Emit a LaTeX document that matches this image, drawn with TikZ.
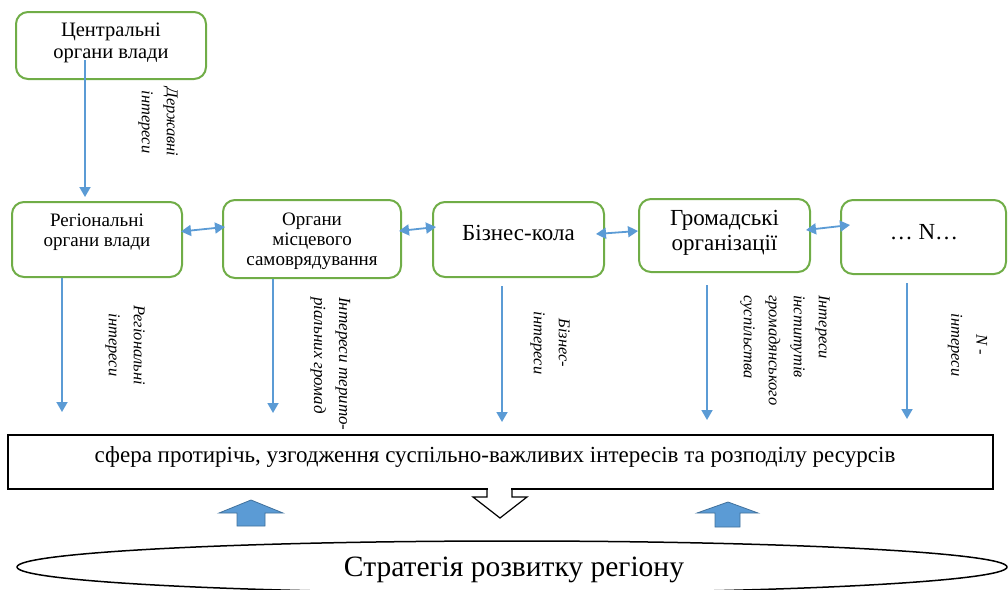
\documentclass[tikz,border=0pt]{standalone}
\usepackage{fontspec}
\setmainfont{Liberation Serif}
\usetikzlibrary{calc,arrows.meta}
\definecolor{boxgreen}{HTML}{70AD47}
\definecolor{arrblue}{HTML}{5B9BD5}
\definecolor{arrblueedge}{HTML}{41719C}
\tikzset{
  gbox/.style={draw=boxgreen, line width=2pt, rounded corners=12pt, inner sep=0pt, fill=white},
  boxtext/.style={align=center, font=\fontsize{19}{20}\selectfont, inner sep=0pt},
  bigtext/.style={align=center, font=\fontsize{23}{25}\selectfont, inner sep=0pt},
  flow/.style={draw=arrblue, line width=1.8pt, -{Triangle[length=10pt,width=11pt]}},
  dflow/.style={draw=arrblue, line width=1.8pt, {Triangle[length=10pt,width=11pt]}-{Triangle[length=10pt,width=11pt]}},
  rlabel/.style={rotate=-90, font=\itshape\fontsize{16.5}{25}\selectfont, align=center, inner sep=0pt},
  blockup/.style={fill=arrblue, draw=arrblueedge, line width=0.8pt},
  hollow/.style={draw=black, line width=1.2pt},
}
\begin{document}
\begin{tikzpicture}[x=1pt, y=-1pt]
\useasboundingbox (0,0) rectangle (1008,589);

% boxes
\node[gbox, minimum width=190pt, minimum height=67pt] (cb) at (111,45.5) {};
\node[boxtext, font=\fontsize{20.5}{21.5}\selectfont] (cbt) at (111,43) {Центральні\\органи влади};

\node[gbox, minimum width=170pt, minimum height=75pt] (b1) at (97,239.5) {};
\node[boxtext] (b1t) at (97,232) {Регіональні\\органи влади};

\node[gbox, minimum width=178pt, minimum height=78pt] (b2) at (312,239) {};
\node[boxtext] (b2t) at (312,241) {Органи\\місцевого\\самоврядування};

\node[gbox, minimum width=171pt, minimum height=75pt] (b3) at (518.5,239.5) {};
\node[bigtext] (b3t) at (518.5,233) {Бізнес-кола};

\node[gbox, minimum width=171pt, minimum height=73pt] (b4) at (724.5,235.5) {};
\node[bigtext] (b4t) at (724.5,233) {Громадські\\організації};

\node[gbox, minimum width=165pt, minimum height=74pt] (b5) at (923.5,237) {};
\node[bigtext] (b5t) at (924,232) {… N…};

% sphere box
\node[draw=black, line width=1.2pt, minimum width=985pt, minimum height=54pt, inner sep=0pt] (sph) at (500.5,462) {};
\node[font=\fontsize{23}{25}\selectfont, inner sep=0pt] (spht) at (495,457) {сфера протирічь, узгодження суспільно-важливих інтересів та розподілу ресурсів};

% strategy ellipse
\draw[black, line width=1.5pt] (512,567) ellipse [x radius=495pt, y radius=26pt];
\node[font=\fontsize{29.5}{31}\selectfont, inner sep=0pt] (str) at (514,570) {Стратегія розвитку регіону};

% vertical arrows
\coordinate (s0) at (85,60);
\coordinate (e0) at (85,197);
\draw[flow] (s0) -- (e0);
\coordinate (e1) at (62,412);
\draw[flow] (b1.south -| e1) -- (e1);
\coordinate (e2) at (273,413);
\draw[flow] (b2.south -| e2) -- (e2);
\coordinate (s3) at (502,286);
\coordinate (e3) at (502,422);
\draw[flow] (s3) -- (e3);
\coordinate (s4) at (707,285);
\coordinate (e4) at (707,420);
\draw[flow] (s4) -- (e4);
\coordinate (s5) at (907,283);
\coordinate (e5) at (907,419);
\draw[flow] (s5) -- (e5);

% horizontal double arrows
\draw[dflow] ($(b1.east)+(-2,-8)$) -- ($(b2.west)+(3,-12)$);
\draw[dflow] ($(b2.east)+(-3,-8)$) -- ($(b3.west)+(4,-12.5)$);
\draw[dflow] ($(b3.east)+(-9,-5.5)$) -- ($(b4.west)+(0,-4.5)$);
\draw[dflow] ($(b4.east)+(-5,-5.5)$) -- ($(b5.west)+(10,-12)$);

% rotated labels
\node[rlabel] (l0) at (158,122) {Державні\\інтереси};
\node[rlabel] (l1) at (125,345) {Регіональні\\інтереси};
\node[rlabel, align=left, anchor=west, font=\itshape\fontsize{17}{25}\selectfont] (l2) at (330.5,297) {Інтереси терито-\\ріальних громад};
\node[rlabel] (l3) at (550,343) {Бізнес-\\інтереси};
\node[rlabel, align=left, anchor=west] (l4) at (785,295) {Інтереси\\інститутів\\громадянського\\суспільства};
\node[rlabel] (l5) at (967.5,345) {N -\\інтереси};

% block arrows
\fill[white] (487.6,486) rectangle (511.4,497);
\draw[hollow] (487,489) -- (487,497) -- (473,497) -- (500,518) -- (527,497) -- (512,497) -- (512,489);
\draw[blockup] (237,526) -- (237,513) -- (219,513) -- (251,500) -- (283,513) -- (265,513) -- (265,526) -- cycle;
\draw[blockup] (715,527) -- (715,513) -- (697,513) -- (728,502) -- (758,513) -- (740,513) -- (740,527) -- cycle;
\end{tikzpicture}
\end{document}
